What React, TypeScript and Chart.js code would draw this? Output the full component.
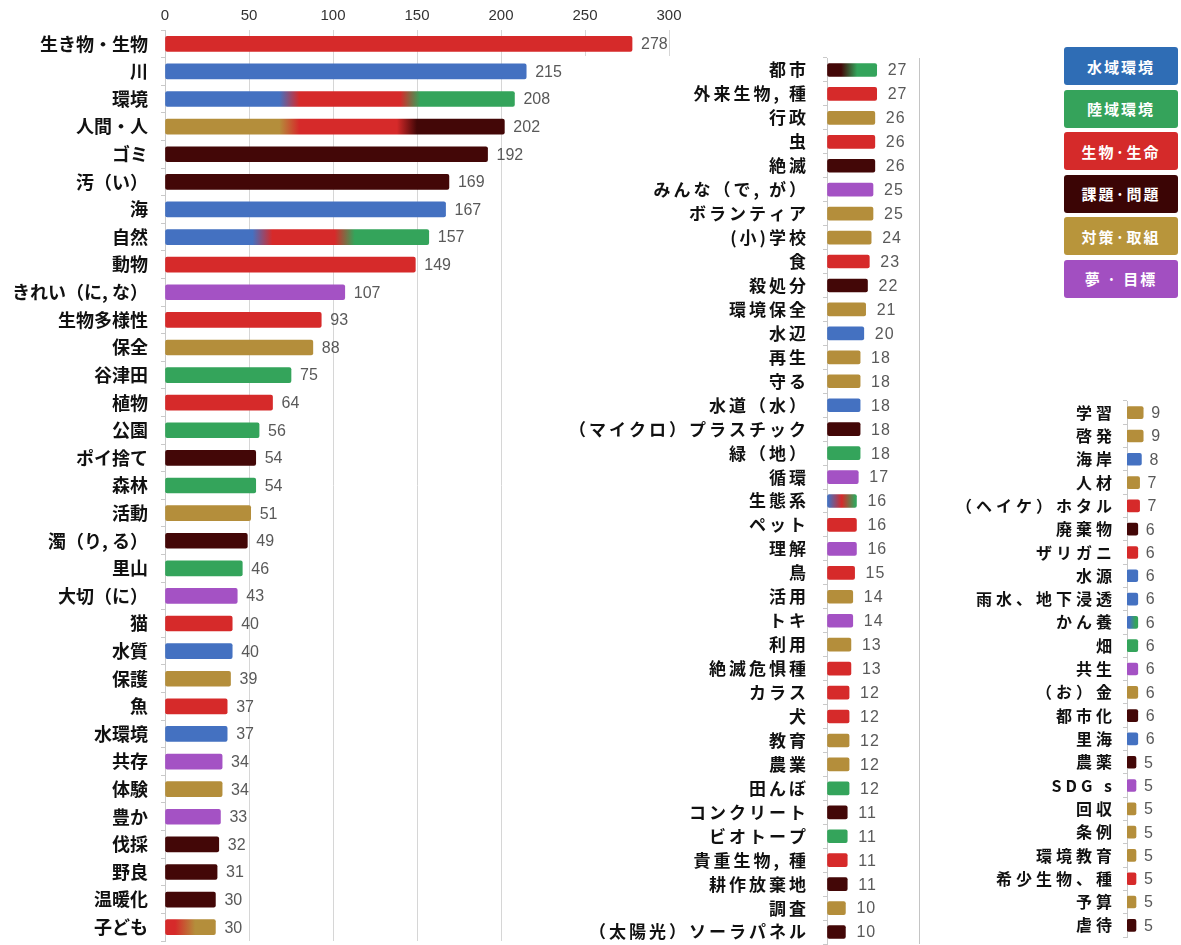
import React, { useEffect, useRef } from 'react';
import { Chart, registerables } from 'chart.js';
Chart.register(...registerables);

// ---------- data ----------
const catColors: Record<string, string> = {
  W: '#4471c1', // 水域環境
  L: '#34a45b', // 陸域環境
  B: '#d62a2a', // 生物・生命
  P: '#430707', // 課題・問題
  A: '#b48e3b', // 対策・取組
  D: '#a452c4', // 夢・目標
};

const legendLabels = ['水域環境', '陸域環境', '生物·生命', '課題·問題', '対策·取組', '夢 · 目標'];
const legendColors = ['#2f6db5', '#35a35b', '#d52a2a', '#3b0505', '#b8953b', '#a24fc1'];

const leftLabels = [
  '生き物・生物', '川', '環境', '人間・人', 'ゴミ', '汚（い）', '海', '自然', '動物', 'きれい（に, な）',
  '生物多様性', '保全', '谷津田', '植物', '公園', 'ポイ捨て', '森林', '活動', '濁（り, る）', '里山',
  '大切（に）', '猫', '水質', '保護', '魚', '水環境', '共存', '体験', '豊か', '伐採', '野良', '温暖化', '子ども',
];
const leftValues = [
  278, 215, 208, 202, 192, 169, 167, 157, 149, 107,
  93, 88, 75, 64, 56, 54, 54, 51, 49, 46,
  43, 40, 40, 39, 37, 37, 34, 34, 33, 32, 31, 30, 30,
];
const leftCats = [
  'B', 'W', 'M', 'M', 'P', 'P', 'W', 'M', 'B', 'D',
  'B', 'A', 'L', 'B', 'L', 'P', 'L', 'A', 'P', 'L',
  'D', 'B', 'W', 'A', 'B', 'W', 'D', 'A', 'D', 'P', 'P', 'P', 'M',
];

const midLabels = [
  '都市', '外来生物, 種', '行政', '虫', '絶滅', 'みんな（で, が）', 'ボランティア', '(小)学校', '食', '殺処分',
  '環境保全', '水辺', '再生', '守る', '水道（水）', '（マイクロ）プラスチック', '緑（地）', '循環', '生態系', 'ペット',
  '理解', '鳥', '活用', 'トキ', '利用', '絶滅危惧種', 'カラス', '犬', '教育', '農業',
  '田んぼ', 'コンクリート', 'ビオトープ', '貴重生物, 種', '耕作放棄地', '調査', '（太陽光）ソーラパネル',
];
const midValues = [
  27, 27, 26, 26, 26, 25, 25, 24, 23, 22,
  21, 20, 18, 18, 18, 18, 18, 17, 16, 16,
  16, 15, 14, 14, 13, 13, 12, 12, 12, 12,
  12, 11, 11, 11, 11, 10, 10,
];
const midCats = [
  'M', 'B', 'A', 'B', 'P', 'D', 'A', 'A', 'B', 'P',
  'A', 'W', 'A', 'A', 'W', 'P', 'L', 'D', 'M', 'B',
  'D', 'B', 'A', 'D', 'A', 'B', 'B', 'B', 'A', 'A',
  'L', 'P', 'L', 'B', 'P', 'A', 'P',
];

const rightLabels = [
  '学習', '啓発', '海岸', '人材', '（ヘイケ）ホタル', '廃棄物', 'ザリガニ', '水源', '雨水、地下浸透', 'かん養',
  '畑', '共生', '（お）金', '都市化', '里海', '農薬', 'SDG s', '回収', '条例', '環境教育',
  '希少生物、種', '予算', '虐待',
];
const rightValues = [
  9, 9, 8, 7, 7, 6, 6, 6, 6, 6,
  6, 6, 6, 6, 6, 5, 5, 5, 5, 5,
  5, 5, 5,
];
const rightCats = [
  'A', 'A', 'W', 'A', 'B', 'P', 'B', 'W', 'W', 'M',
  'L', 'D', 'A', 'P', 'W', 'P', 'D', 'A', 'A', 'A',
  'B', 'A', 'P',
];

// bars made of several categories: [category, count]
const mixedSegments: Record<string, [string, number][]> = {
  '環境': [['W', 74], ['B', 72], ['L', 62]],
  '人間・人': [['A', 74], ['B', 70], ['P', 58]],
  '自然': [['W', 58], ['B', 49], ['L', 50]],
  '子ども': [['B', 12], ['A', 18]],
  '都市': [['P', 12], ['L', 15]],
  '生態系': [['W', 5], ['B', 6], ['L', 5]],
  'かん養': [['W', 3], ['L', 3]],
};

// ---------- chart helpers ----------
type PanelCfg = {
  labels: string[];
  values: number[];
  cats: string[];
  xMax: number;
  xStep: number;
  showX: boolean;
  showXTicks: boolean;
  xHeight: number;
  yWidth: number;
  pad: { top: number; right: number; bottom: number; left: number };
  labelSize: number;
  labelSpacing: number;
  labelPadding: number;
  barThickness: number;
  valueSize: number;
  valueSpacing: number;
  valueOffset: number;
  gridColor: string;
  blend: number;
};

function makeChart(canvas: HTMLCanvasElement, cfg: PanelCfg) {
  const bg = (c: any) => {
    const i = c.dataIndex;
    const label = cfg.labels[i];
    const segs = mixedSegments[label];
    if (!segs) return catColors[cfg.cats[i]] || '#888';
    const chart = c.chart;
    const xs = chart.scales && chart.scales.x;
    const base = catColors[segs[0][0]];
    if (!xs) return base;
    const total = segs.reduce((a, s) => a + s[1], 0);
    const x0 = xs.getPixelForValue(0);
    const x1 = xs.getPixelForValue(total);
    if (!isFinite(x0) || !isFinite(x1) || x1 - x0 < 1) return base;
    const w = x1 - x0;
    const g = chart.ctx.createLinearGradient(x0, 0, x1, 0);
    const b = cfg.blend / w;
    let cum = 0;
    segs.forEach((s, k) => {
      const st = cum / total;
      const en = (cum + s[1]) / total;
      cum += s[1];
      let a = k > 0 ? st + b : st;
      let e = k < segs.length - 1 ? en - b : en;
      if (a > e) { const m = (st + en) / 2; a = m; e = m; }
      g.addColorStop(Math.min(1, Math.max(0, a)), catColors[s[0]]);
      g.addColorStop(Math.min(1, Math.max(0, e)), catColors[s[0]]);
    });
    return g;
  };

  const spacingPlugin = {
    id: 'spacing',
    beforeDraw(chart: any) {
      chart.ctx.letterSpacing = cfg.labelSpacing + 'px';
    },
  };
  const valuePlugin = {
    id: 'values',
    afterDatasetsDraw(chart: any) {
      const ctx = chart.ctx;
      const meta = chart.getDatasetMeta(0);
      ctx.save();
      ctx.letterSpacing = cfg.valueSpacing + 'px';
      ctx.font = `${cfg.valueSize}px 'Liberation Sans', 'DejaVu Sans', sans-serif`;
      ctx.fillStyle = '#595959';
      ctx.textAlign = 'left';
      ctx.textBaseline = 'middle';
      meta.data.forEach((el: any, i: number) => {
        ctx.fillText(String(cfg.values[i]), el.x + cfg.valueOffset, el.y + 1);
      });
      ctx.restore();
    },
  };

  return new Chart(canvas, {
    type: 'bar',
    data: {
      labels: cfg.labels,
      datasets: [
        {
          data: cfg.values,
          backgroundColor: bg as any,
          borderWidth: 0,
          borderRadius: 2,
          borderSkipped: false,
          barThickness: cfg.barThickness,
        },
      ],
    },
    options: {
      indexAxis: 'y',
      responsive: false,
      animation: false,
      maintainAspectRatio: false,
      layout: { padding: cfg.pad },
      plugins: { legend: { display: false }, tooltip: { enabled: false } },
      scales: {
        x: {
          display: cfg.showX,
          position: 'top',
          min: 0,
          max: cfg.xMax,
          afterFit: (s: any) => {
            s.height = cfg.xHeight;
            s.paddingLeft = 0;
            s.paddingRight = 0;
          },
          ticks: {
            display: cfg.showXTicks,
            stepSize: cfg.xStep,
            color: '#333333',
            padding: 5,
            maxRotation: 0,
            font: { family: "'Liberation Sans', 'DejaVu Sans', sans-serif", size: 15 },
          },
          grid: { color: cfg.gridColor, drawTicks: false, lineWidth: 1 },
          border: { display: false },
        },
        y: {
          afterFit: (s: any) => {
            s.width = cfg.yWidth;
            s.paddingTop = 0;
            s.paddingBottom = 0;
          },
          grid: { drawOnChartArea: false, drawTicks: true, tickLength: 4, color: '#c9c9c9' },
          border: { display: true, color: '#c9c9c9' },
          ticks: {
            autoSkip: false,
            color: '#111111',
            padding: cfg.labelPadding,
            font: { family: "'Noto Sans CJK JP', 'Noto Sans', sans-serif", weight: 'bold', size: cfg.labelSize },
          },
        },
      },
    } as any,
    plugins: [spacingPlugin, valuePlugin],
  });
}

const leftCfg: PanelCfg = {
  labels: leftLabels, values: leftValues, cats: leftCats,
  xMax: 300, xStep: 50, showX: true, showXTicks: true, xHeight: 30, yWidth: 165,
  pad: { top: 0, right: 31, bottom: 4, left: 0 },
  labelSize: 18, labelSpacing: 0, labelPadding: 13, barThickness: 15,
  valueSize: 16, valueSpacing: 0, valueOffset: 9, gridColor: '#d6d6d6', blend: 10,
};
const midCfg: PanelCfg = {
  labels: midLabels, values: midValues, cats: midCats,
  xMax: 50, xStep: 50, showX: true, showXTicks: false, xHeight: 58, yWidth: 287,
  pad: { top: 0, right: 21, bottom: 1, left: 0 },
  labelSize: 17, labelSpacing: 3, labelPadding: 14, barThickness: 13,
  valueSize: 16, valueSpacing: 1, valueOffset: 11, gridColor: '#c4c4c4', blend: 8,
};
const rightCfg: PanelCfg = {
  labels: rightLabels, values: rightValues, cats: rightCats,
  xMax: 30, xStep: 10, showX: false, showXTicks: false, xHeight: 0, yWidth: 187,
  pad: { top: 11, right: 0, bottom: 8, left: 0 },
  labelSize: 16, labelSpacing: 4, labelPadding: 7, barThickness: 12,
  valueSize: 16, valueSpacing: 1, valueOffset: 8, gridColor: '#c4c4c4', blend: 3,
};

export default function App() {
  const leftRef = useRef<HTMLCanvasElement>(null);
  const midRef = useRef<HTMLCanvasElement>(null);
  const rightRef = useRef<HTMLCanvasElement>(null);

  useEffect(() => {
    const charts: Chart[] = [];
    if (leftRef.current) charts.push(makeChart(leftRef.current, leftCfg));
    if (midRef.current) charts.push(makeChart(midRef.current, midCfg));
    if (rightRef.current) charts.push(makeChart(rightRef.current, rightCfg));
    return () => charts.forEach((c) => c.destroy());
  }, []);

  const abs = (l: number, t: number, w: number, h: number): React.CSSProperties => ({
    position: 'absolute', left: l, top: t, width: w, height: h,
  });

  return (
    <div style={{ position: 'absolute', left: 0, top: 0, width: 1181, height: 945, background: '#fff', overflow: 'hidden' }}>
      <canvas ref={leftRef} width={700} height={945} style={abs(0, 0, 700, 945)} />
      <div style={{ ...abs(578, 56, 362, 889), background: '#fff' }} />
      <div style={{ ...abs(563, 112, 15, 833), background: '#fff' }} />
      <canvas ref={midRef} width={400} height={945} style={abs(540, 0, 400, 945)} />
      <canvas ref={rightRef} width={241} height={555} style={abs(940, 390, 241, 555)} />
      {legendLabels.map((t, i) => (
        <div
          key={t}
          style={{
            ...abs(1064, 47 + i * 42.5, 114, 38),
            background: legendColors[i],
            borderRadius: 3,
            color: '#fff',
            fontFamily: "'Noto Sans CJK JP', sans-serif",
            fontWeight: 'bold',
            fontSize: 15,
            letterSpacing: 2,
            display: 'flex',
            alignItems: 'center',
            justifyContent: 'center',
            boxSizing: 'border-box',
          }}
        >
          {t}
        </div>
      ))}
    </div>
  );
}
